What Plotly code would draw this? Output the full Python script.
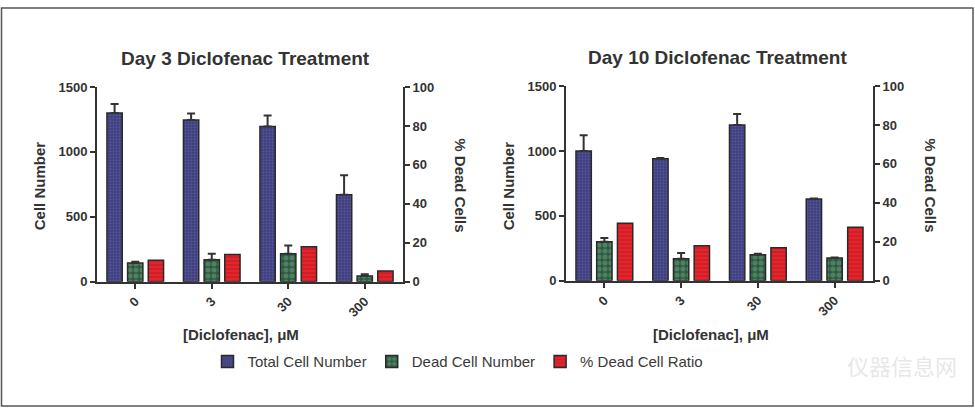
import plotly.graph_objects as go

categories = ["0", "3", "30", "300"]

day3_total = [1300, 1245, 1195, 670]
day3_total_err = [70, 50, 85, 150]
day3_dead = [145, 170, 215, 45]
day3_dead_err = [8, 45, 65, 12]
day3_ratio = [11, 14, 18, 5.5]

day10_total = [1000, 940, 1200, 630]
day10_total_err = [120, 5, 85, 3]
day10_dead = [300, 170, 200, 175]
day10_dead_err = [30, 43, 8, 5]
day10_ratio = [29.5, 18, 17, 27.5]

series_names = ["Total Cell Number", "Dead Cell Number", "% Dead Cell Ratio"]

W, H = 975, 416
FONT = "Arial, Liberation Sans, sans-serif"
DARK = "#333333"

def px(x):
    return x / W

def py(y):
    return 1 - y / H

BAR_W = 0.2
OFFS = [-0.37, -0.1, 0.17]
OUTLINE = dict(color="#2a2a2a", width=1.5)

styles = [
    dict(color="#3b3b7c", pattern=dict(shape=".", fgcolor="#6e6eb0", bgcolor="#3b3b7c", size=3, solidity=0.45)),
    dict(color="#2e5a40", pattern=dict(shape=".", fgcolor="#6fa585", bgcolor="#2e5a40", size=6, solidity=0.55)),
    dict(color="#e8232b", pattern=dict(shape="-", fgcolor="#8e1a1e", bgcolor="#e8232b", size=4, solidity=0.3)),
]

fig = go.Figure()

def add_panel(total, total_err, dead, dead_err, ratio, xa, ya, ya2, show):
    err_style = dict(type="data", symmetric=False, color=DARK, thickness=2, width=4)
    fig.add_trace(go.Bar(
        x=categories, y=total, name=series_names[0], xaxis=xa, yaxis=ya,
        width=BAR_W, offset=OFFS[0], showlegend=show, legendgroup="a",
        marker=dict(line=OUTLINE, **styles[0]),
        error_y=dict(array=total_err, arrayminus=[0] * len(total_err), **err_style)))
    fig.add_trace(go.Bar(
        x=categories, y=dead, name=series_names[1], xaxis=xa, yaxis=ya,
        width=BAR_W, offset=OFFS[1], showlegend=show, legendgroup="b",
        marker=dict(line=OUTLINE, **styles[1]),
        error_y=dict(array=dead_err, arrayminus=[0] * len(dead_err), **err_style)))
    fig.add_trace(go.Bar(
        x=categories, y=ratio, name=series_names[2], xaxis=xa, yaxis=ya2,
        width=BAR_W, offset=OFFS[2], showlegend=show, legendgroup="c",
        marker=dict(line=OUTLINE, **styles[2])))

add_panel(day3_total, day3_total_err, day3_dead, day3_dead_err, day3_ratio, "x", "y", "y2", True)
add_panel(day10_total, day10_total_err, day10_dead, day10_dead_err, day10_ratio, "x2", "y3", "y4", False)

tickfont = dict(family=FONT, size=13, color=DARK, weight="bold")
axis_common = dict(showline=True, linecolor=DARK, linewidth=2, ticks="outside",
                   ticklen=5, tickwidth=2, tickcolor=DARK, showgrid=False,
                   zeroline=False, tickfont=tickfont)

L = dict(x0=97, x1=403, y0=285, y1=83)
R = dict(x0=566, x1=873, y0=284, y1=82)

fig.update_layout(
    xaxis=dict(domain=[px(L["x0"]), px(L["x1"])], anchor="y", type="category",
               range=[-0.5, 3.5], tickangle=-45, **axis_common),
    yaxis=dict(domain=[py(L["y0"]), py(L["y1"])], anchor="x", range=[0, 1500],
               tickvals=[0, 500, 1000, 1500], **axis_common),
    yaxis2=dict(overlaying="y", anchor="x", side="right", range=[0, 100],
                tickvals=[0, 20, 40, 60, 80, 100], **axis_common),
    xaxis2=dict(domain=[px(R["x0"]), px(R["x1"])], anchor="y3", type="category",
                range=[-0.5, 3.5], tickangle=-45, **axis_common),
    yaxis3=dict(domain=[py(R["y0"]), py(R["y1"])], anchor="x2", range=[0, 1500],
                tickvals=[0, 500, 1000, 1500], **axis_common),
    yaxis4=dict(overlaying="y3", anchor="x2", side="right", range=[0, 100],
                tickvals=[0, 20, 40, 60, 80, 100], **axis_common),
    barmode="overlay",
    width=W, height=H,
    margin=dict(l=0, r=0, t=0, b=0),
    paper_bgcolor="white", plot_bgcolor="white",
    font=dict(family=FONT, color=DARK),
    legend=dict(orientation="h", x=px(458), y=py(368), xanchor="center", yanchor="middle",
                font=dict(family=FONT, size=15, color="#3a3a3a"), itemwidth=30,
                traceorder="normal", bgcolor="rgba(0,0,0,0)"),
)

def ann(text, x, y, size, bold=True, angle=0, color=DARK, family=FONT):
    fig.add_annotation(text=("<b>%s</b>" % text) if bold else text, x=px(x), y=py(y),
                       xref="paper", yref="paper", showarrow=False, textangle=angle,
                       xanchor="center", yanchor="middle",
                       font=dict(family=family, size=size, color=color))

ann("Day 3 Diclofenac Treatment", 246, 53, 19)
ann("Day 10 Diclofenac Treatment", 717, 52, 19)
ann("Cell Number", 39, 186, 15, angle=-90)
ann("Cell Number", 508, 185, 15, angle=-90)
ann("% Dead Cells", 461, 185, 15, angle=90)
ann("% Dead Cells", 931, 185, 15, angle=90)
ann("[Diclofenac], μM", 241, 340, 15)
ann("[Diclofenac], μM", 711, 340, 15)
ann("仪器信息网", 902, 371, 22, bold=False, color="rgba(215,215,215,0.6)",
    family="Noto Sans CJK SC")

fig.add_shape(type="rect", xref="paper", yref="paper",
              x0=px(1.5), x1=px(973), y0=py(414), y1=py(1),
              line=dict(color="#555555", width=1.5))

fig.write_html("out.html", config={"displayModeBar": False},
               post_script="document.body.style.margin='0';document.documentElement.style.overflow='hidden';document.body.style.overflow='hidden';")
